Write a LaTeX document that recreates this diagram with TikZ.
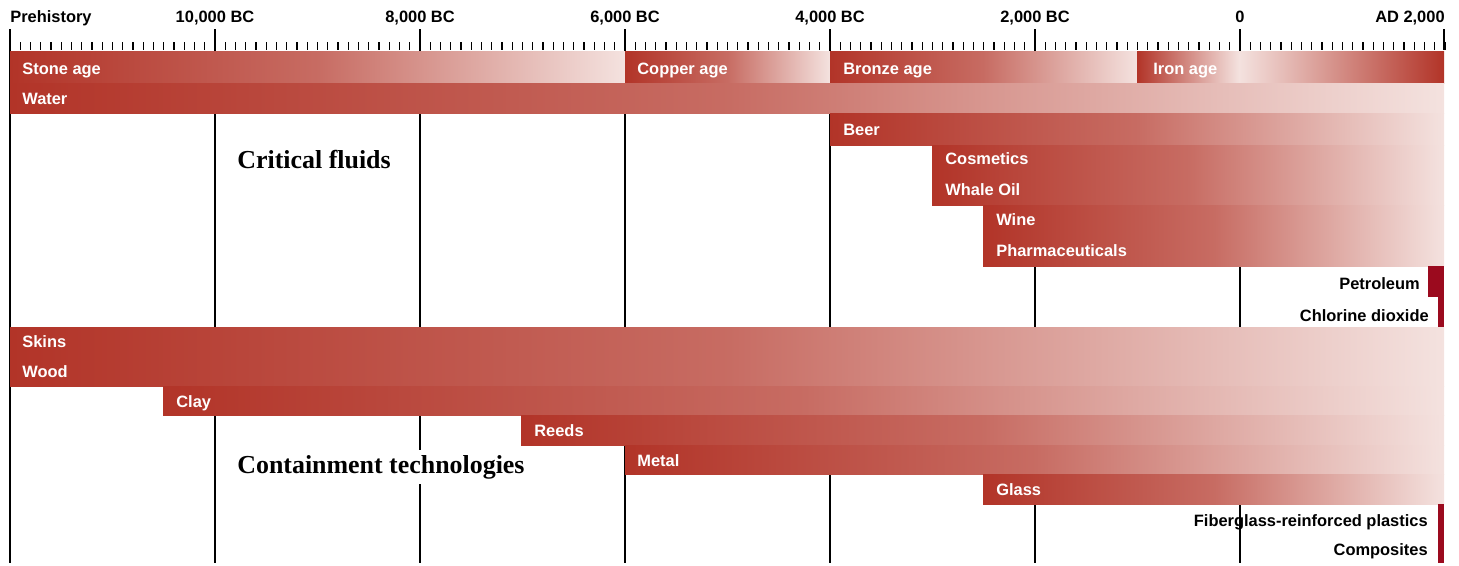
\documentclass[tikz,border=0pt]{standalone}
\usepackage{fontspec}
\setmainfont{Liberation Sans}
\newfontfamily\titlefont{Liberation Serif}
\usepackage{xcolor}

\definecolor{bardark}{RGB}{178,52,40}
\definecolor{barlight}{RGB}{244,226,223}
\definecolor{newdark}{RGB}{155,10,30}

\tikzset{
    yearlabel/.style={anchor=base, inner sep=0pt, font=\fontsize{9.35}{11}\selectfont\bfseries},
    barlabel/.style={anchor=base west, inner sep=0pt, text=white, font=\fontsize{9.35}{11}\selectfont\bfseries},
    sidelabel/.style={anchor=base east, inner sep=0pt, font=\fontsize{9.35}{11}\selectfont\bfseries},
    grouptitle/.style={anchor=base west, fill=white, inner xsep=0pt, inner ysep=3pt, font=\titlefont\fontsize{14.75}{17}\selectfont\bfseries},
    fade/.style={left color=bardark, right color=barlight, middle color=bardark!68!barlight},
    majorline/.style={line width=0.8pt},
    minortick/.style={line width=0.6pt}
}

\begin{document}
\begin{tikzpicture}[x=0.02cm, y=-0.02cm]
        \useasboundingbox (0,0) rectangle (1459,565);

        % Draw minor ticks, one per century
        \foreach \i in {0,1,...,140} {
            \draw[minortick] (10+10.25*\i,42) -- (10+10.25*\i,50);
        }
        % Draw major lines, one per two millennia
        \foreach \k in {0,1,...,6} {
            \draw[majorline] (10+205*\k,29) -- (10+205*\k,563);
        }
        \draw[majorline] (1444,29) -- (1444,50);

        % Year labels
        \node[yearlabel, anchor=base west] (prehistory) at (10,22) {Prehistory};
        \foreach \k/\yr in {1/{10,000 BC},2/{8,000 BC},3/{6,000 BC},4/{4,000 BC},5/{2,000 BC},6/0} {
            \node[yearlabel] (year\k) at (10+205*\k,22) {\yr};
        }
        \node[yearlabel, anchor=base east] (today) at (1445,22) {AD 2,000};

        % Ages
        \shade[fade] (10,51) rectangle (625,83);
        \shade[fade] (625,51) rectangle (830,83);
        \shade[fade] (830,51) rectangle (1137,83);
        \shade[left color=bardark, right color=barlight] (1137,51) rectangle (1239,83);
        \shade[left color=barlight, right color=bardark] (1239,51) rectangle (1444,83);

        % Bars fading towards today
        \foreach \xa/\ya/\yb in {10/83/113, 830/113/145, 932/145/205, 983/205/266,
                                 10/327/386, 163/386/415, 521/415/445, 625/445/474, 983/474/504} {
            \shade[fade] (\xa,\ya) rectangle (1444,\yb);
        }

        % Recent bars
        \fill[newdark] (1428,266) rectangle (1444,297);
        \fill[newdark] (1438,297) rectangle (1444,327);
        \fill[newdark] (1438,504) rectangle (1444,563);

        % Bar labels
        \node[barlabel] (stone) at (22,74) {Stone age};
        \node[barlabel] (copper) at (637,74) {Copper age};
        \node[barlabel] (bronze) at (843,74) {Bronze age};
        \node[barlabel] (iron) at (1153,74) {Iron age};
        \node[barlabel] (water) at (22,104) {Water};
        \node[barlabel] (beer) at (843,135) {Beer};
        \node[barlabel] (cosmetics) at (945,164) {Cosmetics};
        \node[barlabel] (whaleoil) at (945,195) {Whale Oil};
        \node[barlabel] (wine) at (996,225) {Wine};
        \node[barlabel] (pharma) at (996,256) {Pharmaceuticals};
        \node[sidelabel] (petroleum) at (1420,289) {Petroleum};
        \node[sidelabel] (chlorine) at (1429,321) {Chlorine dioxide};
        \node[barlabel] (skins) at (22,347) {Skins};
        \node[barlabel] (wood) at (22,377) {Wood};
        \node[barlabel] (clay) at (176,407) {Clay};
        \node[barlabel] (reeds) at (534,436) {Reeds};
        \node[barlabel] (metal) at (637,466) {Metal};
        \node[barlabel] (glass) at (996,495) {Glass};
        \node[sidelabel] (fiberglass) at (1428,526) {Fiberglass-reinforced plastics};
        \node[sidelabel] (composites) at (1428,555) {Composites};

        % Group titles
        \node[grouptitle] (fluids) at (237,168) {Critical fluids};
        \node[grouptitle] (containment) at (237,473) {Containment technologies};
    \end{tikzpicture}
\end{document}
